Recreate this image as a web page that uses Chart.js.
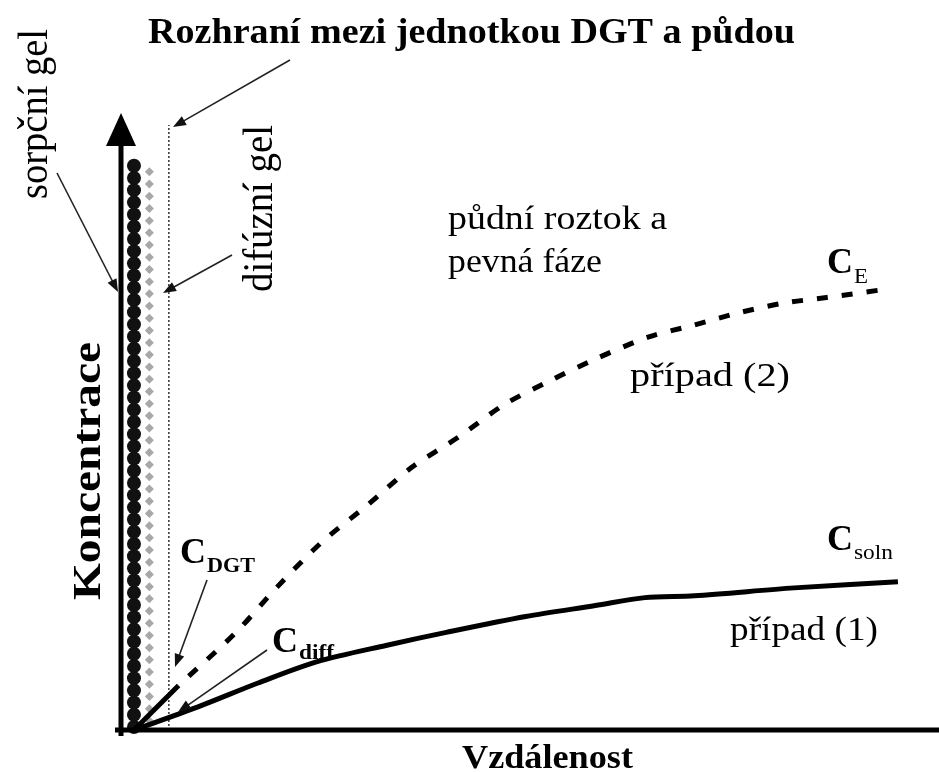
<!DOCTYPE html>
<html>
<head>
<meta charset="utf-8">
<script src="https://cdn.jsdelivr.net/npm/chart.js@4.4.1/dist/chart.umd.min.js"></script>
<style>
  html, body { margin: 0; padding: 0; background: #fff; }
  #graf { display: block; }
</style>
</head>
<body>
<canvas id="graf" width="939" height="772"></canvas>
<script>
// Data (vzdálenost 0-100, koncentrace 0-100)
const vzdalenostE = [7.1, 14.1, 19.3, 24.6, 30.4, 35.9, 41.7, 47.2, 52.8, 58.3, 65.0, 70.7, 76.5, 81.8, 87.0, 94.0];
const koncentraceE = [7.3, 15.9, 23.5, 30.6, 36.9, 43.1, 48.1, 53.3, 57.2, 60.7, 64.4, 66.4, 68.5, 70.0, 70.9, 72.2];

const vzdalenostSoln = [1.6, 9.5, 16.9, 24.2, 32.8, 40.1, 49.9, 58.5, 64.6, 70.7, 83.0, 95.8];
const koncentraceSoln = [0, 3.8, 7.7, 11.2, 13.9, 16.0, 18.6, 20.4, 21.7, 22.0, 23.3, 24.3];

const vzdalenostDGT = [1.6, 7.1];
const koncentraceDGT = [0, 7.3];

// sorpční gel (kuličky) a difúzní gel
const sorpcniX = 1.6;
const sorpcniY = [0.5, 2.5, 4.5, 6.5, 8.5, 10.5, 12.5, 14.5, 16.5, 18.5, 20.5, 22.5, 24.5, 26.5, 28.5, 30.5,
  32.5, 34.5, 36.5, 38.5, 40.5, 42.5, 44.5, 46.5, 48.5, 50.5, 52.5, 54.5, 56.5, 58.5, 60.5, 62.5,
  64.5, 66.5, 68.5, 70.5, 72.5, 74.5, 76.5, 78.5, 80.5, 82.5, 84.5, 86.5, 88.5, 90.5, 92.5];
const difuzniX = 3.5;
const difuzniY = [1.5, 3.5, 5.5, 7.5, 9.5, 11.5, 13.5, 15.5, 17.5, 19.5, 21.5, 23.5, 25.5, 27.5, 29.5, 31.5,
  33.5, 35.5, 37.5, 39.5, 41.5, 43.5, 45.5, 47.5, 49.5, 51.5, 53.5, 55.5, 57.5, 59.5, 61.5, 63.5,
  65.5, 67.5, 69.5, 71.5, 73.5, 75.5, 77.5, 79.5, 81.5, 83.5, 85.5, 87.5, 89.5, 91.5];
const rozhraniX = [5.9, 5.9];
const rozhraniY = [0, 99.2];

function body(xs, ys) {
  return xs.map((x, i) => ({ x: x, y: ys[i] }));
}

const SERIF = '"Liberation Serif", "DejaVu Serif", serif';

// Text natažený na danou šířku
function napis(ctx, text, x, y, sirka, font, otocit) {
  ctx.save();
  ctx.font = font;
  ctx.textAlign = 'left';
  ctx.textBaseline = 'alphabetic';
  const w = ctx.measureText(text).width;
  ctx.translate(x, y);
  if (otocit) ctx.rotate(-Math.PI / 2);
  ctx.scale(sirka / w, 1);
  ctx.fillStyle = '#000';
  ctx.fillText(text, 0, 0);
  ctx.restore();
}

// Šipka s plnou hlavičkou
function sipka(ctx, x1, y1, x2, y2) {
  const uhel = Math.atan2(y2 - y1, x2 - x1);
  const delka = 13, sire = 5;
  ctx.save();
  ctx.strokeStyle = '#222';
  ctx.fillStyle = '#111';
  ctx.lineWidth = 1.6;
  ctx.beginPath();
  ctx.moveTo(x1, y1);
  ctx.lineTo(x2 - Math.cos(uhel) * delka * 0.8, y2 - Math.sin(uhel) * delka * 0.8);
  ctx.stroke();
  ctx.beginPath();
  ctx.moveTo(x2, y2);
  ctx.lineTo(x2 - Math.cos(uhel) * delka + Math.sin(uhel) * sire, y2 - Math.sin(uhel) * delka - Math.cos(uhel) * sire);
  ctx.lineTo(x2 - Math.cos(uhel) * delka - Math.sin(uhel) * sire, y2 - Math.sin(uhel) * delka + Math.cos(uhel) * sire);
  ctx.closePath();
  ctx.fill();
  ctx.restore();
}

function cSIndexem(ctx, x, y, sub, subFont, subSirka, subPosun) {
  napis(ctx, 'C', x, y, 26, 'bold 36px ' + SERIF);
  napis(ctx, sub, x + 27, y + subPosun, subSirka, subFont);
}

const popisky = {
  id: 'popisky',
  afterDatasetsDraw(chart) {
    const ctx = chart.ctx;
    const sx = chart.scales.x, sy = chart.scales.y;
    const x0 = sx.getPixelForValue(0);
    const y0 = sy.getPixelForValue(0);

    // osy
    ctx.save();
    ctx.fillStyle = '#000';
    ctx.fillRect(x0 - 6, y0 - 2.5, chart.width - x0 + 6, 5);
    ctx.fillRect(x0 - 2.5, 146, 5, y0 - 146 + 6);
    ctx.beginPath();
    ctx.moveTo(x0, 113);
    ctx.lineTo(x0 - 15, 146);
    ctx.lineTo(x0 + 15, 146);
    ctx.closePath();
    ctx.fill();
    ctx.restore();

    // texty
    napis(ctx, 'Rozhraní mezi jednotkou DGT a půdou', 148, 43, 647, 'bold 36px ' + SERIF);
    napis(ctx, 'Vzdálenost', 462, 768, 171, 'bold 34px ' + SERIF);
    napis(ctx, 'Koncentrace', 100, 600, 258, 'bold 40px ' + SERIF, true);
    napis(ctx, 'sorpční gel', 47, 199, 170, '42px ' + SERIF, true);
    napis(ctx, 'difúzní gel', 272, 292, 167, '42px ' + SERIF, true);
    napis(ctx, 'půdní roztok a', 448, 229, 219, '34px ' + SERIF);
    napis(ctx, 'pevná fáze', 448, 272, 154, '34px ' + SERIF);
    napis(ctx, 'případ (2)', 630, 386, 160, '34px ' + SERIF);
    napis(ctx, 'případ (1)', 730, 640, 148, '34px ' + SERIF);

    cSIndexem(ctx, 827, 273, 'E', '20px ' + SERIF, 14, 10);
    cSIndexem(ctx, 827, 550, 'soln', '20px ' + SERIF, 39, 9);
    cSIndexem(ctx, 180, 563, 'DGT', 'bold 20px ' + SERIF, 48, 9);
    cSIndexem(ctx, 272, 652, 'diff', 'bold 20px ' + SERIF, 35, 7);

    // šipky
    sipka(ctx, 290, 60, 173, 127);
    sipka(ctx, 57, 173, 118, 292);
    sipka(ctx, 232, 255, 163, 293);
    sipka(ctx, 207, 580, 175, 667);
    sipka(ctx, 267, 650, 178, 712);
  }
};

const ctx = document.getElementById('graf').getContext('2d');

new Chart(ctx, {
  type: 'scatter',
  data: {
    datasets: [
      {
        label: 'C_DGT',
        data: body(vzdalenostDGT, koncentraceDGT),
        showLine: true,
        borderColor: '#000',
        borderWidth: 5,
        pointRadius: 0,
        clip: false
      },
      {
        label: 'C_E',
        data: body(vzdalenostE, koncentraceE),
        showLine: true,
        borderColor: '#000',
        borderWidth: 5,
        borderDash: [11, 14],
        borderDashOffset: 11,
        tension: 0.3,
        pointRadius: 0,
        clip: false
      },
      {
        label: 'C_soln',
        data: body(vzdalenostSoln, koncentraceSoln),
        showLine: true,
        borderColor: '#000',
        borderWidth: 5,
        tension: 0.3,
        pointRadius: 0,
        clip: false
      },
      {
        label: 'rozhraní',
        data: body(rozhraniX, rozhraniY),
        showLine: true,
        borderColor: '#333',
        borderWidth: 1.5,
        borderDash: [2, 2],
        pointRadius: 0,
        clip: false
      },
      {
        label: 'sorpční gel',
        data: sorpcniY.map(y => ({ x: sorpcniX, y: y })),
        pointRadius: 7,
        pointBackgroundColor: '#111',
        pointBorderWidth: 0,
        clip: false
      },
      {
        label: 'difúzní gel',
        data: difuzniY.map(y => ({ x: difuzniX, y: y })),
        pointStyle: 'rectRot',
        pointRadius: 4.5,
        pointBackgroundColor: '#a8a8a8',
        pointBorderWidth: 0,
        clip: false
      }
    ]
  },
  options: {
    responsive: false,
    animation: false,
    events: [],
    layout: { padding: { left: 121, right: 0, top: 120, bottom: 42 } },
    scales: {
      x: { type: 'linear', min: 0, max: 100, display: false },
      y: { type: 'linear', min: 0, max: 100, display: false }
    },
    plugins: {
      legend: { display: false },
      tooltip: { enabled: false }
    }
  },
  plugins: [popisky]
});
</script>
</body>
</html>
